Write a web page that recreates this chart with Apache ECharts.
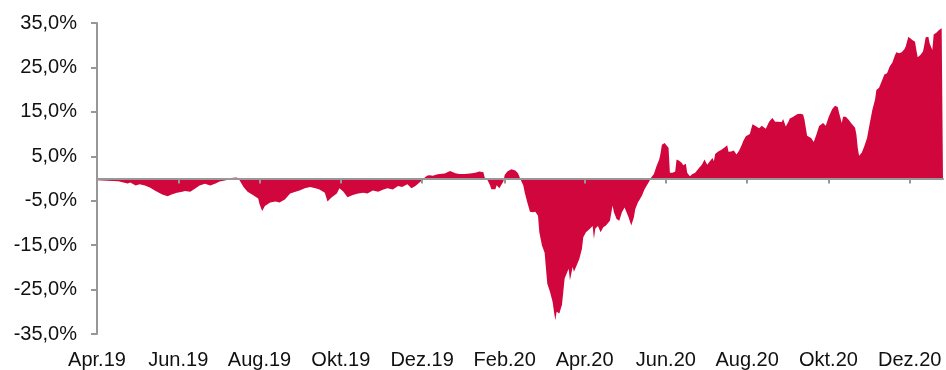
<!DOCTYPE html>
<html>
<head>
<meta charset="utf-8">
<script src="https://cdn.jsdelivr.net/npm/echarts@6/dist/echarts.min.js"></script>
<style>
  html, body { margin: 0; padding: 0; background: #fff; }
  #chart { width: 946px; height: 370px; }
</style>
</head>
<body>
<div id="chart"></div>
<script>
// Relative performance, in percent, sampled by calendar day since 1 Apr 2019.
const startDate = '2019-04-01';
const dayOffsets = [
  0, 8, 16, 23, 25, 29, 32, 36, 40, 44, 49, 53, 56, 60, 64, 66, 70, 74, 77, 81,
  85, 89, 92, 96, 100, 102, 105, 107, 110, 113, 117, 121, 122, 124, 126, 130, 134, 137, 141, 145,
  149, 152, 156, 160, 164, 167, 171, 173, 176, 180, 182, 185, 188, 192, 196, 200, 203, 207, 211, 215,
  218, 222, 226, 229, 233, 236, 239, 241, 244, 246, 248, 250, 252, 255, 257, 261, 265, 266, 269, 270,
  272, 276, 280, 284, 287, 290, 291, 293, 295, 296, 299, 300, 302, 305, 306, 308, 311, 314, 316, 318,
  320, 321, 323, 325, 327, 329, 331, 332, 334, 336, 337, 338, 340, 342, 343, 344, 345, 347, 349, 350,
  351, 352, 354, 355, 357, 358, 360, 362, 364, 365, 367, 370, 372, 373, 374, 376, 378, 380, 382, 385,
  387, 388, 390, 392, 394, 396, 397, 399, 401, 403, 404, 406, 409, 411, 414, 416, 418, 420, 422, 423,
  424, 426, 427, 429, 430, 431, 432, 434, 435, 437, 439, 440, 442, 443, 445, 447, 449, 450, 452, 454,
  456, 458, 460, 462, 463, 464, 466, 469, 471, 473, 474, 476, 478, 480, 482, 484, 485, 487, 490, 492,
  494, 495, 497, 499, 500, 502, 504, 505, 507, 509, 511, 514, 515, 517, 519, 520, 522, 524, 526, 528,
  530, 531, 533, 534, 536, 538, 540, 542, 545, 547, 549, 550, 552, 554, 556, 557, 559, 560, 562, 564,
  566, 567, 569, 570, 571, 572, 574, 576, 578, 580, 582, 584, 585, 587, 589, 591, 593, 595, 597, 599,
  600, 602, 604, 606, 607, 609, 610, 612, 614, 615, 616, 618, 620, 621, 622, 624, 625, 627, 628, 630,
  632, 634, 635
];
const performance = [
  -0.4, -0.5, -0.6, -1.1, -0.9, -1.6, -1.3, -1.6, -2.1, -2.8, -3.6, -4.0, -3.6, -3.2, -3.0, -2.8, -3.0, -2.2, -1.6, -1.2,
  -1.6, -1.1, -0.7, -0.45, -0.1, 0.15, 0.2, -0.4, -1.9, -3.0, -3.7, -4.5, -5.8, -7.3, -6.2, -5.4, -5.2, -5.4, -4.7, -3.4,
  -3.0, -2.7, -2.2, -1.9, -2.2, -2.5, -3.2, -5.2, -4.3, -3.4, -2.2, -3.0, -4.2, -3.7, -3.4, -3.2, -3.4, -2.7, -3.0, -2.5,
  -2.2, -2.5, -1.7, -1.9, -1.3, -2.2, -1.7, -1.2, -0.4, 0.2, 0.7, 0.75, 0.6, 0.9, 1.0, 1.1, 1.7, 1.9, 1.2, 0.8,
  1.0, 1.0, 1.1, 1.3, 1.6, 1.4, 0.2, -0.3, -1.5, -2.4, -2.4, -1.5, -2.2, -0.7, 0.8, 1.6, 2.1, 1.8, 1.2, -0.3,
  -1.6, -3.1, -5.4, -7.5, -7.6, -7.5, -8.4, -12.1, -15.1, -16.7, -20.3, -23.7, -25.5, -27.8, -30.0, -31.9, -30.0, -30.4, -28.4, -25.5,
  -22.5, -21.8, -20.3, -22.9, -19.9, -21.0, -19.6, -18.1, -15.8, -13.2, -12.1, -11.3, -10.7, -13.6, -11.3, -10.7, -12.1, -11.0, -10.6, -9.5,
  -6.1, -7.6, -9.1, -9.5, -7.6, -6.5, -6.9, -8.7, -10.6, -8.7, -6.9, -5.4, -3.9, -2.4, -0.9, 0.2, 1.0, 2.8, 4.3, 5.7,
  7.6, 8.0, 8.1, 6.9, 1.3, 0.9, 1.3, 1.6, 4.3, 4.0, 3.5, 3.0, 3.3, 1.3, 0.5, 1.0, 1.3, 1.0, 2.4, 3.1,
  4.3, 3.1, 3.9, 4.6, 3.9, 5.5, 6.0, 6.5, 7.0, 7.5, 6.0, 6.1, 6.3, 5.4, 6.3, 7.6, 8.4, 9.5, 10.0, 12.2,
  11.9, 12.1, 11.3, 11.9, 11.7, 11.2, 12.5, 13.0, 13.6, 12.8, 12.8, 12.7, 13.4, 11.7, 12.8, 13.5, 13.8, 14.2, 14.5, 14.6,
  14.4, 13.3, 9.6, 9.9, 9.1, 8.2, 9.9, 11.8, 12.5, 11.9, 13.7, 14.4, 15.7, 16.4, 16.1, 14.8, 12.5, 13.9, 13.9, 13.3,
  12.5, 12.9, 11.4, 9.9, 6.9, 5.1, 5.8, 7.3, 9.1, 12.4, 15.5, 17.8, 19.9, 20.4, 21.9, 23.4, 23.7, 25.2, 26.1, 27.8,
  28.4, 28.2, 28.4, 29.1, 29.7, 31.9, 31.6, 31.2, 30.8, 28.9, 27.3, 27.8, 28.6, 30.1, 31.8, 31.9, 30.4, 28.9, 32.4, 32.8,
  33.4, 33.8, 34.0
];
// Month ticks along the day axis and their labels.
const tickDates = [
  '2019-04-01', '2019-06-01', '2019-08-01', '2019-10-01', '2019-12-01', '2020-02-01',
  '2020-04-01', '2020-06-01', '2020-08-01', '2020-10-01', '2020-12-01'
];
const tickLabels = [
  'Apr.19', 'Jun.19', 'Aug.19', 'Okt.19', 'Dez.19', 'Feb.20',
  'Apr.20', 'Jun.20', 'Aug.20', 'Okt.20', 'Dez.20'
];
const endDay = 635;

const DAY = 86400000;
const toTime = s => {
  const [y, m, d] = s.split('-').map(Number);
  return Date.UTC(y, m - 1, d);
};
const t0 = toTime(startDate);
// position of each month start, in days from the start date
const tickDays = tickDates.map(s => Math.round((toTime(s) - t0) / DAY));
const seriesData = dayOffsets.map((d, i) => [d, performance[i]]);

const axisGrey = '#979797';
const font = '"Liberation Sans", Arial, sans-serif';

const chart = echarts.init(document.getElementById('chart'), null, { renderer: 'canvas' });
chart.setOption({
  animation: false,
  backgroundColor: '#ffffff',
  grid: { left: 97, right: 3, top: 23, bottom: 35.5 },
  xAxis: [
    {
      // zero line with month ticks
      type: 'value',
      position: 'bottom',
      min: 0,
      max: endDay,
      z: 5,
      axisLine: { onZero: true, lineStyle: { color: axisGrey, width: 2 } },
      axisTick: { show: true, length: 5, lineStyle: { color: axisGrey, width: 2 }, customValues: tickDays },
      axisLabel: { show: false, customValues: tickDays },
      splitLine: { show: false }
    },
    {
      // month labels along the bottom edge
      type: 'value',
      position: 'bottom',
      min: 0,
      max: endDay,
      axisLine: { show: false, onZero: false },
      axisTick: { show: false },
      axisLabel: {
        show: true,
        customValues: tickDays,
        margin: 16,
        color: '#111',
        fontFamily: font,
        fontSize: 20,
        hideOverlap: false,
        formatter: v => {
          const i = tickDays.indexOf(v);
          return i >= 0 ? tickLabels[i] : '';
        }
      },
      splitLine: { show: false }
    }
  ],
  yAxis: {
    type: 'value',
    min: -35,
    max: 35,
    interval: 10,
    axisLine: { show: true, lineStyle: { color: axisGrey, width: 2 } },
    axisTick: { show: true, length: 6, lineStyle: { color: axisGrey, width: 2 } },
    axisLabel: {
      margin: 20,
      padding: [3, 0, 0, 0],
      color: '#111',
      fontFamily: font,
      fontSize: 20,
      formatter: v => v.toFixed(1).replace('.', ',') + '%'
    },
    splitLine: { show: false }
  },
  series: [{
    type: 'line',
    xAxisIndex: 0,
    data: seriesData,
    showSymbol: false,
    symbol: 'none',
    lineStyle: { width: 0 },
    areaStyle: { color: '#D0063C', opacity: 1 },
    itemStyle: { color: '#D0063C' }
  }]
});
</script>
</body>
</html>
